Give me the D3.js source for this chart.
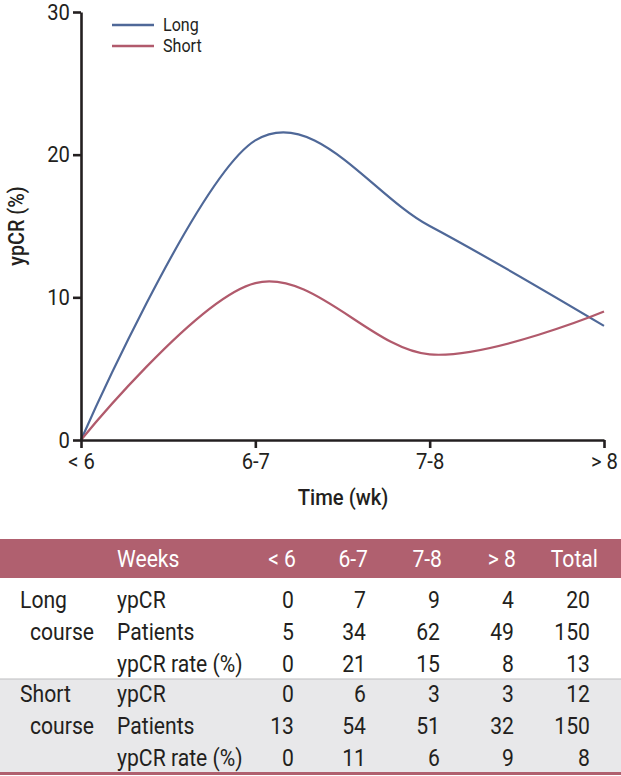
<!DOCTYPE html>
<html>
<head>
<meta charset="utf-8" />
<title>ypCR by time to surgery</title>
<style>
html, body {
  margin: 0;
  padding: 0;
  background: #fff;
}
svg text {
  font-family: "Roboto", "Liberation Sans", sans-serif;
  fill: #231f20;
}
</style>
</head>
<body>
<svg id="svg" width="621" height="776"></svg>
<script src="https://d3js.org/d3.v7.min.js"></script>
<script>
// ---------------------------------------------------------
// Data

const weeks = ["< 6", "6-7", "7-8", "> 8"]
const yTicks = [0, 10, 20, 30]

const longYpcr = [0, 7, 9, 4]
const longPatients = [5, 34, 62, 49]
const longRate = [0, 21, 15, 8]
const longTotals = [20, 150, 13]

const shortYpcr = [0, 6, 3, 3]
const shortPatients = [13, 54, 51, 32]
const shortRate = [0, 11, 6, 9]
const shortTotals = [12, 150, 8]

const blue = "#4f6898"
const red = "#b15a6c"
const band = "#b0606f"
const grey = "#e8e8ea"
const ink = "#231f20"
const sx = 0.92   // narrow the font a bit, reference uses a condensed face

// ---------------------------------------------------------
// Chart

const svg = d3.select('#svg')

const x = d3.scalePoint()
  .domain(weeks)
  .range([81, 604])

const y = d3.scaleLinear()
  .domain([0, 30])
  .range([440, 12])

const line = d3.line()
  .x((d, i) => x(weeks[i]))
  .y(d => y(d))
  .curve(d3.curveCatmullRom.alpha(0))

const series = [
  { name: "Long", values: longRate, color: blue },
  { name: "Short", values: shortRate, color: red }
]

svg.selectAll('path.series')
  .data(series)
  .enter().append('path')
  .attr('class', 'series')
  .attr('fill', 'none')
  .attr('stroke', d => d.color)
  .attr('stroke-width', 2.2)
  .attr('d', d => line(d.values))

svg.append('g')
  .attr('transform', 'translate(81,0)')
  .call(d3.axisLeft(y).tickValues(yTicks).tickSize(8).tickSizeOuter(0).tickPadding(4))

svg.append('g')
  .attr('transform', 'translate(0,440)')
  .call(d3.axisBottom(x).tickSize(8).tickSizeOuter(0).tickPadding(5))

svg.selectAll('.domain, .tick line')
  .attr('stroke', ink)
  .attr('stroke-width', 2.6)

svg.selectAll('.tick text')
  .attr('font-size', 22)
  .attr('fill', ink)
  .attr('transform', `scale(${sx},1)`)
  .style('font-family', 'Roboto, sans-serif')

function label(parent, x, y, str, size, anchor) {
  return parent.append('text')
    .attr('transform', `translate(${x},${y}) scale(${sx},1)`)
    .attr('text-anchor', anchor || 'start')
    .attr('font-size', size)
    .text(str)
}

label(svg, 0, 0, 'ypCR (%)', 21.5, 'middle')
  .attr('transform', `translate(24,226) rotate(-90) scale(${sx},1)`)
  .attr('font-weight', 500)

label(svg, 343, 505, 'Time (wk)', 22, 'middle')
  .attr('font-weight', 500)

// legend
series.forEach((s, i) => {
  const yy = 25 + i * 21
  svg.append('line')
    .attr('x1', 112).attr('x2', 154)
    .attr('y1', yy).attr('y2', yy)
    .attr('stroke', s.color)
    .attr('stroke-width', 2.6)
  label(svg, 163, yy + 6, s.name, 17.5)
})

// ---------------------------------------------------------
// Table

const colRight = [296, 368, 442, 516, 598]
const numRight = [294, 366, 440, 514, 590]
const fs = 23

const table = svg.append('g')

table.append('rect')
  .attr('x', 0).attr('y', 539)
  .attr('width', 621).attr('height', 39)
  .attr('fill', band)

table.append('rect')
  .attr('x', 0).attr('y', 679)
  .attr('width', 621).attr('height', 94)
  .attr('fill', grey)

table.append('line')
  .attr('x1', 0).attr('x2', 621)
  .attr('y1', 679).attr('y2', 679)
  .attr('stroke', '#bdbdbf')
  .attr('stroke-width', 1)

table.append('rect')
  .attr('x', 0).attr('y', 772)
  .attr('width', 621).attr('height', 3)
  .attr('fill', band)

const header = ["Weeks"].concat(weeks, ["Total"])
header.forEach((h, i) => {
  label(table, i === 0 ? 117 : colRight[i - 1], 567, h, fs, i === 0 ? 'start' : 'end')
    .style('fill', '#fff')
})

const rowLabels = ["ypCR", "Patients", "ypCR rate (%)"]
const groups = [
  { name: "Long", rows: [longYpcr, longPatients, longRate], totals: longTotals, y0: 608 },
  { name: "Short", rows: [shortYpcr, shortPatients, shortRate], totals: shortTotals, y0: 702 }
]
const rowStep = 31.8

groups.forEach(g => {
  label(table, 20, g.y0, g.name, fs)
  label(table, 30, g.y0 + rowStep, 'course', fs)

  g.rows.forEach((vals, r) => {
    const yy = g.y0 + r * rowStep
    label(table, 117, yy, rowLabels[r], fs)
    vals.concat([g.totals[r]]).forEach((v, i) => {
      label(table, numRight[i], yy, v, fs, 'end')
    })
  })
})
</script>
</body>
</html>
